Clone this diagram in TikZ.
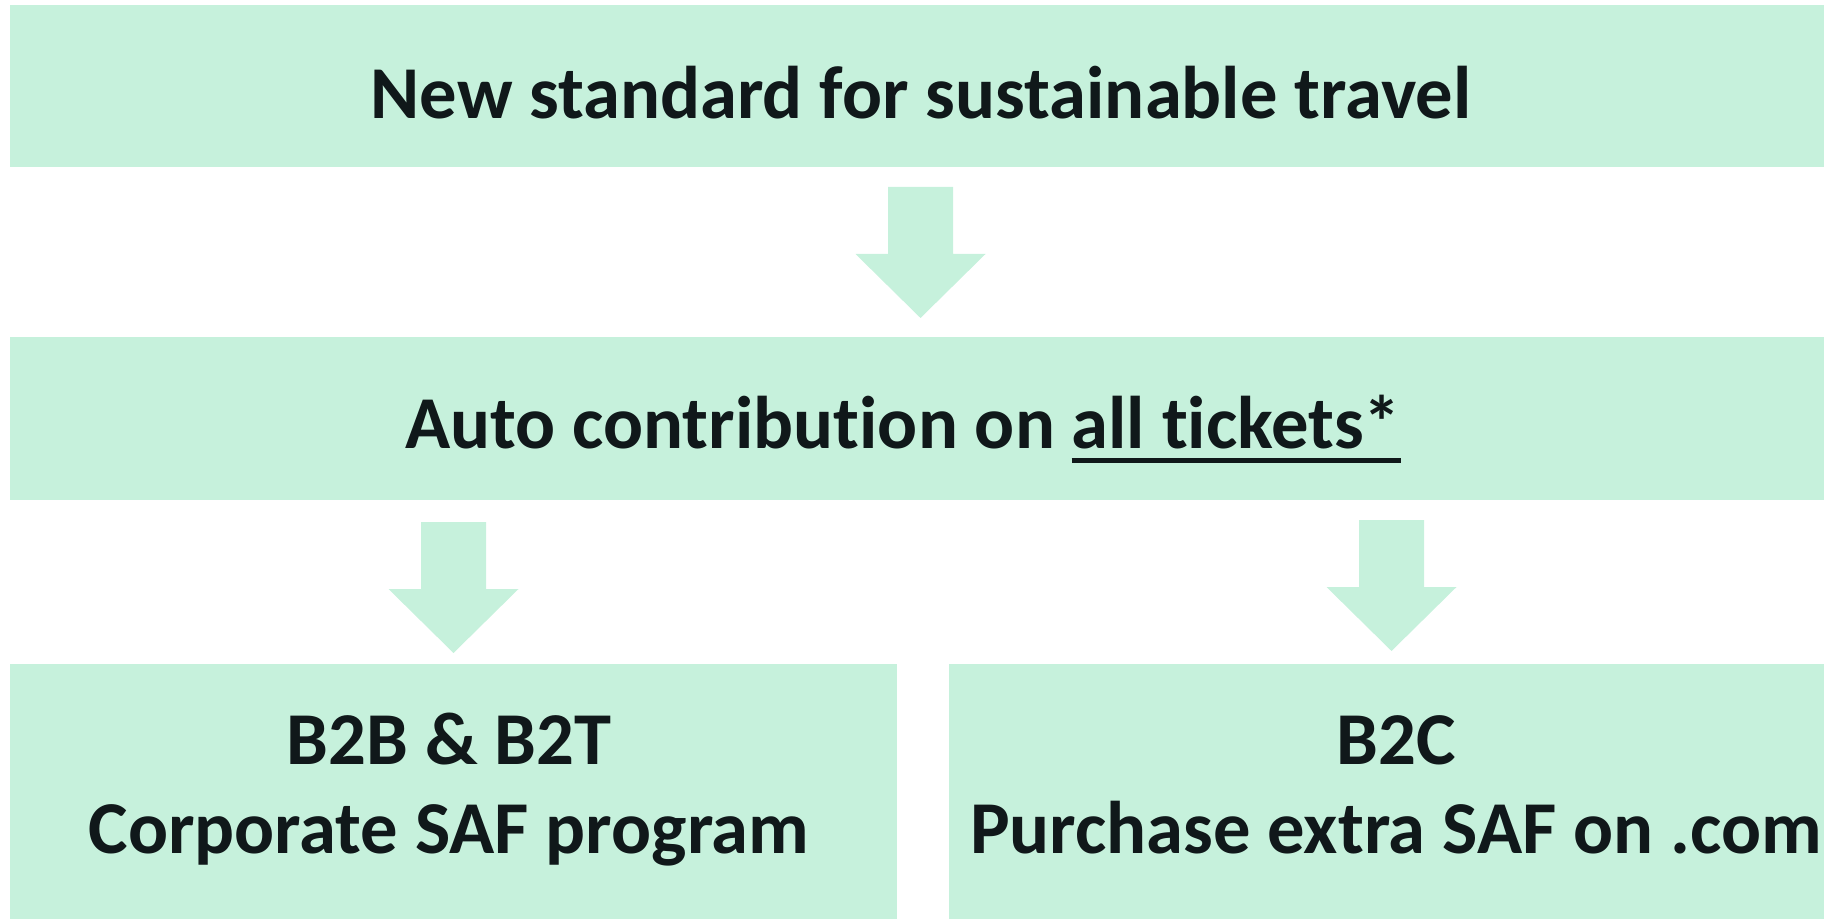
\documentclass[tikz,border=0pt]{standalone}
\usepackage{fontspec}
\setmainfont{Carlito}[Ligatures=NoCommon]
\definecolor{mint}{RGB}{198,241,220}
\definecolor{ink}{RGB}{16,24,26}
\tikzset{
    box/.style={fill=mint, draw=none, inner sep=0pt, anchor=north west},
    txt/.style={text=ink, font=\fontsize{37.3pt}{44.5pt}\selectfont\bfseries, anchor=base, inner sep=0pt, align=center},
    downarrow/.style={fill=mint, draw=none}
}
% underlined text with a thick rule
\newcommand{\thickul}[1]{{\setbox0\hbox{#1}\rlap{\rule[-7.5pt]{\wd0}{2.5pt}}\box0}}
\begin{document}
\begin{tikzpicture}[x=0.5pt, y=-0.5pt]
    \useasboundingbox (0,0) rectangle (1824,919);
    % Boxes
    \node[box, minimum width=907pt, minimum height=81pt] (standard) at (10,5) {};
    \node[box, minimum width=907pt, minimum height=81.5pt] (auto) at (10,337) {};
    \node[box, minimum width=443.5pt, minimum height=127.5pt] (btob) at (10,664) {};
    \node[box, minimum width=437.5pt, minimum height=127.5pt] (btoc) at (949,664) {};
    % Arrows
    \coordinate (arrowa) at (920.5,187);
    \coordinate (arrowb) at (453.5,522);
    \coordinate (arrowc) at (1391.5,520);
    \foreach \a in {arrowa, arrowb, arrowc}
        \fill[downarrow] (\a) ++(-32.5,0) -- ++(65,0) -- ++(0,67) -- ++(32.5,0)
            -- ++(-65,64) -- ++(-65,-64) -- ++(32.5,0) -- cycle;
    % Labels
    \node[txt] (standardtxt) at (921,119) {New standard for sustainable travel};
    \node[txt] (autotxt) at (903,448) {Auto contribution on \thickul{all tickets*}};
    \node[txt] (btobtxt) at (449,853) {B2B \& B2T\\Corporate SAF program};
    \node[txt] (btoctxt) at (1396,853) {B2C\\Purchase extra SAF on .com};
\end{tikzpicture}
\end{document}
